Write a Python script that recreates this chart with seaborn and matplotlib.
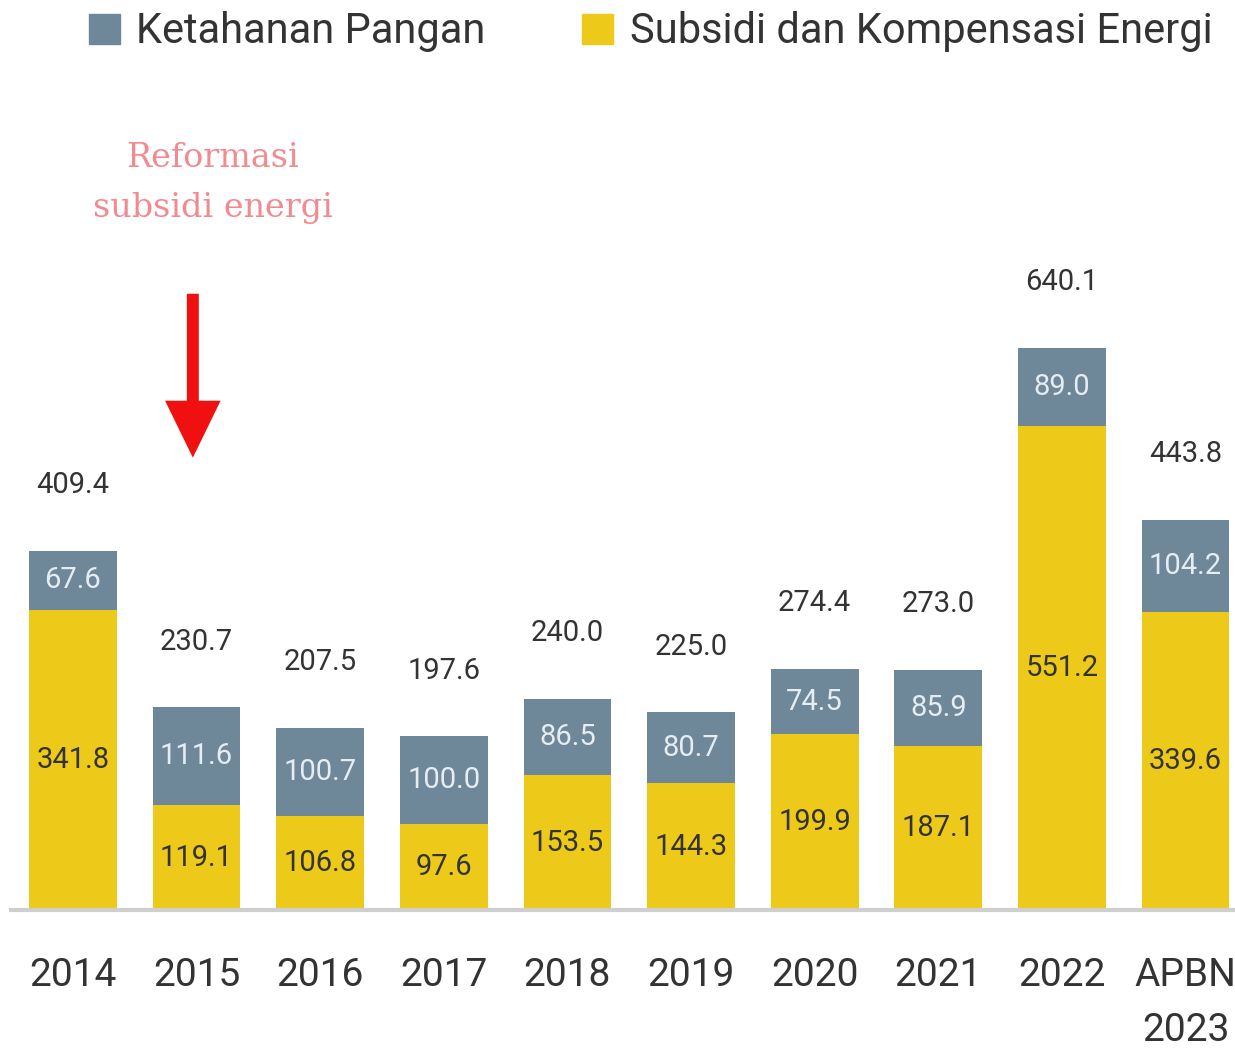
import numpy as np
import pandas as pd
import matplotlib
matplotlib.use("Agg")
import matplotlib.pyplot as plt
import seaborn as sns
from matplotlib.patches import Patch

years = ["2014", "2015", "2016", "2017", "2018", "2019", "2020", "2021", "2022", "APBN\n2023"]
energi = [341.8, 119.1, 106.8, 97.6, 153.5, 144.3, 199.9, 187.1, 551.2, 339.6]
pangan = [67.6, 111.6, 100.7, 100.0, 86.5, 80.7, 74.5, 85.9, 89.0, 104.2]
totals = [409.4, 230.7, 207.5, 197.6, 240.0, 225.0, 274.4, 273.0, 640.1, 443.8]

GRAY = "#6f8899"
YELLOW = "#edc919"
TXT = "#333333"

sns.set_style("white")
plt.rcParams["font.family"] = ["Roboto", "DejaVu Sans"]

df = pd.DataFrame({"tahun": years, "energi": energi, "pangan": pangan})
df["stack"] = df["energi"] + df["pangan"]

fig = plt.figure(figsize=(12.35, 10.48), dpi=100)
ax = fig.add_axes([0.009, 0.1317, 0.991, 0.811])

# gray bar drawn full height, yellow drawn over the bottom part
sns.barplot(data=df, x="tahun", y="stack", color=GRAY, width=0.71, saturation=1,
            linewidth=0, ax=ax)
sns.barplot(data=df, x="tahun", y="energi", color=YELLOW, width=0.71, saturation=1,
            linewidth=0, ax=ax)

for i in range(len(years)):
    ax.text(i, energi[i] / 2, f"{energi[i]:.1f}", ha="center", va="center",
            fontsize=21, color=TXT)
    ax.text(i, energi[i] + pangan[i] / 2, f"{pangan[i]:.1f}", ha="center", va="center",
            fontsize=21, color="#e6edf2")
    ax.text(i, energi[i] + pangan[i] + 75, f"{totals[i]:.1f}", ha="center", va="center",
            fontsize=21, color=TXT)

ax.set_xlim(-0.5, 9.4)
ax.set_ylim(0, 968)
ax.set_xlabel("")
ax.set_ylabel("")
ax.set_yticks([])
sns.despine(ax=ax, left=True, top=True, right=True)
ax.spines["bottom"].set_color("#cfcfcf")
ax.spines["bottom"].set_linewidth(3)
ax.tick_params(axis="x", length=0, pad=34, labelsize=28, labelcolor=TXT)
for lbl in ax.get_xticklabels():
    lbl.set_verticalalignment("top")
    lbl.set_linespacing(1.6)

# annotation
ax.annotate("", xy=(0.97, 512), xytext=(0.97, 705),
            arrowprops=dict(arrowstyle="simple,head_width=2.0,head_length=2.05,tail_width=0.43",
                            mutation_scale=20, color="#f01010", lw=0))
ax.text(1.13, 828, "Reformasi\nsubsidi energi", ha="center", va="center",
        fontsize=24, color="#f28a90", family="DejaVu Serif", linespacing=1.7)

handles = [Patch(color=GRAY), Patch(color=YELLOW)]
fig.legend(handles, ["Ketahanan Pangan", "Subsidi dan Kompensasi Energi"],
           loc="upper right", bbox_to_anchor=(1.012, 1.025), ncol=2, frameon=False,
           fontsize=30, handlelength=0.75, handleheight=0.75, handletextpad=0.4,
           columnspacing=2.3, labelcolor=TXT)

fig.savefig("out.png", dpi=100)
